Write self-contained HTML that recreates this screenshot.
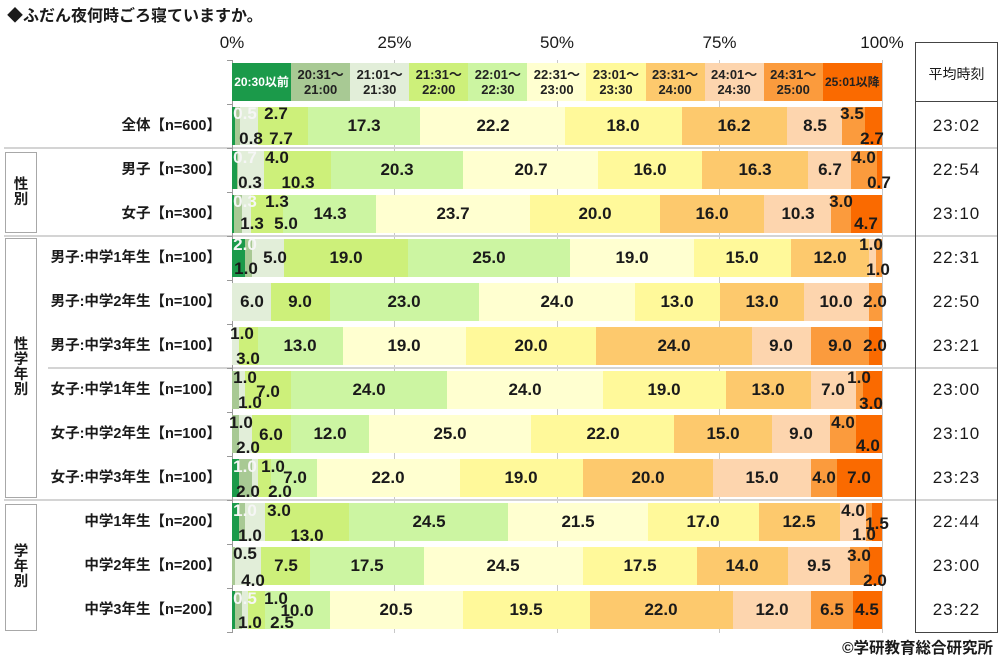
<!DOCTYPE html>
<html><head><meta charset="utf-8">
<style>
*{margin:0;padding:0;box-sizing:border-box}
html,body{width:1000px;height:660px;background:#fff;overflow:hidden}
body{position:relative;font-family:"Liberation Sans","Noto Sans CJK JP",sans-serif;color:#1a1a1a}
.abs{position:absolute}
.title{position:absolute;left:7px;top:6px;font-size:16px;font-weight:bold;line-height:22px;white-space:nowrap}
.ax{position:absolute;top:33px;width:60px;text-align:center;font-size:17px;line-height:20px}
.grid{position:absolute;top:60px;height:573px;width:1px;background:#c8c8c8}
.tick{position:absolute;left:227px;width:5px;height:1px;background:#999}
.sep{position:absolute;height:2px;background:#d4d4d4}
.grp{position:absolute;left:5px;width:32px;border:1px solid #a8a8a8;background:#fff;display:flex;align-items:center;justify-content:center;text-align:center;font-weight:bold;font-size:14.5px;line-height:15px}
.rl{position:absolute;right:779px;height:20px;line-height:20px;font-size:14.5px;font-weight:bold;white-space:nowrap;text-align:right}
.leg{position:absolute;top:63px;left:232px;width:650px;height:38px;display:flex}
.leg div{flex:0 0 59.09px;display:flex;align-items:center;justify-content:center;text-align:center;font-size:13px;font-weight:bold;line-height:15px;color:#222;white-space:nowrap}
.bar{position:absolute;left:232px;width:650px;height:38px;display:flex}
.bar i{display:block;flex:0 0 auto;height:38px}
.a{background:#1b9a4a}.b{background:#a8c994}.c{background:#e2eed9}.d{background:#cdf07a}.e{background:#ccf5a2}.f{background:#ffffd0}.g{background:#fff99a}.h{background:#fdc96d}.j{background:#fdd5ae}.k{background:#fb9b3d}.m{background:#fa6a00}
.v{position:absolute;width:60px;height:20px;line-height:20px;text-align:center;font-size:17px;font-weight:bold;color:#1a1a1a;white-space:nowrap}
.w{color:#f6f6f6}
.tbl{position:absolute;left:915px;top:42px;width:83px;height:591px;border:1px solid #444}
.th{position:absolute;left:915px;width:83px;text-align:center;font-size:14px;line-height:20px}
.tv{position:absolute;left:915px;width:83px;text-align:center;font-size:17px;line-height:20px;letter-spacing:1px}
.foot{position:absolute;right:7px;top:639px;font-size:15.5px;font-weight:bold;line-height:20px;white-space:nowrap}
</style></head><body>

<div class="title">◆ふだん夜何時ごろ寝ていますか。</div>

<div class="ax" style="left:202px">0%</div>
<div class="ax" style="left:364.5px">25%</div>
<div class="ax" style="left:527px">50%</div>
<div class="ax" style="left:689.5px">75%</div>
<div class="ax" style="left:852px">100%</div>

<div class="grid" style="left:394px"></div>
<div class="grid" style="left:557px"></div>
<div class="grid" style="left:719px"></div>
<div class="grid" style="left:882px"></div>

<div class="sep" style="left:4px;width:994px;top:147px"></div>
<div class="sep" style="left:4px;width:994px;top:235px"></div>
<div class="sep" style="left:48px;width:950px;top:367px"></div>
<div class="sep" style="left:4px;width:994px;top:499px"></div>

<div class="abs" style="left:232px;top:60px;width:1px;height:573px;background:#999"></div>
<div class="tick" style="top:60px"></div><div class="tick" style="top:104px"></div><div class="tick" style="top:148px"></div><div class="tick" style="top:192px"></div><div class="tick" style="top:236px"></div><div class="tick" style="top:280px"></div><div class="tick" style="top:324px"></div><div class="tick" style="top:368px"></div><div class="tick" style="top:412px"></div><div class="tick" style="top:456px"></div><div class="tick" style="top:500px"></div><div class="tick" style="top:544px"></div><div class="tick" style="top:588px"></div><div class="tick" style="top:632px"></div>

<div class="grp" style="top:152px;height:81px">性<br>別</div>
<div class="grp" style="top:238px;height:260px">性<br>学<br>年<br>別</div>
<div class="grp" style="top:504px;height:127px">学<br>年<br>別</div>

<div class="rl" style="top:116px">全体【n=600】</div>
<div class="rl" style="top:160px">男子【n=300】</div>
<div class="rl" style="top:204px">女子【n=300】</div>
<div class="rl" style="top:248px">男子:中学1年生【n=100】</div>
<div class="rl" style="top:292px">男子:中学2年生【n=100】</div>
<div class="rl" style="top:336px">男子:中学3年生【n=100】</div>
<div class="rl" style="top:380px">女子:中学1年生【n=100】</div>
<div class="rl" style="top:424px">女子:中学2年生【n=100】</div>
<div class="rl" style="top:468px">女子:中学3年生【n=100】</div>
<div class="rl" style="top:512px">中学1年生【n=200】</div>
<div class="rl" style="top:556px">中学2年生【n=200】</div>
<div class="rl" style="top:600px">中学3年生【n=200】</div>

<div class="leg">
<div class="a" style="color:#fff;font-size:12px">20:30以前</div>
<div class="b">20:31～<br>21:00</div>
<div class="c">21:01～<br>21:30</div>
<div class="d">21:31～<br>22:00</div>
<div class="e">22:01～<br>22:30</div>
<div class="f">22:31～<br>23:00</div>
<div class="g">23:01～<br>23:30</div>
<div class="h">23:31～<br>24:00</div>
<div class="j">24:01～<br>24:30</div>
<div class="k">24:31～<br>25:00</div>
<div class="m" style="font-size:12px">25:01以降</div>
</div>

<div class="bar" style="top:107px"><i class="a" style="width:0.5%"></i><i class="b" style="width:0.8%"></i><i class="c" style="width:2.7%"></i><i class="d" style="width:7.7%"></i><i class="e" style="width:17.3%"></i><i class="f" style="width:22.2%"></i><i class="g" style="width:18%"></i><i class="h" style="width:16.2%"></i><i class="j" style="width:8.5%"></i><i class="k" style="width:3.5%"></i><i class="m" style="width:2.6%"></i></div>
<div class="bar" style="top:151px"><i class="a" style="width:0.7%"></i><i class="b" style="width:0.3%"></i><i class="c" style="width:4%"></i><i class="d" style="width:10.3%"></i><i class="e" style="width:20.3%"></i><i class="f" style="width:20.7%"></i><i class="g" style="width:16%"></i><i class="h" style="width:16.3%"></i><i class="j" style="width:6.7%"></i><i class="k" style="width:4%"></i><i class="m" style="width:0.7%"></i></div>
<div class="bar" style="top:195px"><i class="a" style="width:0.3%"></i><i class="b" style="width:1.3%"></i><i class="c" style="width:1.3%"></i><i class="d" style="width:5%"></i><i class="e" style="width:14.3%"></i><i class="f" style="width:23.7%"></i><i class="g" style="width:20%"></i><i class="h" style="width:16%"></i><i class="j" style="width:10.3%"></i><i class="k" style="width:3%"></i><i class="m" style="width:4.8%"></i></div>
<div class="bar" style="top:239px"><i class="a" style="width:2%"></i><i class="b" style="width:1%"></i><i class="c" style="width:5%"></i><i class="d" style="width:19%"></i><i class="e" style="width:25%"></i><i class="f" style="width:19%"></i><i class="g" style="width:15%"></i><i class="h" style="width:12%"></i><i class="j" style="width:1%"></i><i class="k" style="width:1%"></i></div>
<div class="bar" style="top:283px"><i class="c" style="width:6%"></i><i class="d" style="width:9%"></i><i class="e" style="width:23%"></i><i class="f" style="width:24%"></i><i class="g" style="width:13%"></i><i class="h" style="width:13%"></i><i class="j" style="width:10%"></i><i class="k" style="width:2%"></i></div>
<div class="bar" style="top:327px"><i class="c" style="width:1%"></i><i class="d" style="width:3%"></i><i class="e" style="width:13%"></i><i class="f" style="width:19%"></i><i class="g" style="width:20%"></i><i class="h" style="width:24%"></i><i class="j" style="width:9%"></i><i class="k" style="width:9%"></i><i class="m" style="width:2%"></i></div>
<div class="bar" style="top:371px"><i class="b" style="width:1%"></i><i class="c" style="width:1%"></i><i class="d" style="width:7%"></i><i class="e" style="width:24%"></i><i class="f" style="width:24%"></i><i class="g" style="width:19%"></i><i class="h" style="width:13%"></i><i class="j" style="width:7%"></i><i class="k" style="width:1%"></i><i class="m" style="width:3%"></i></div>
<div class="bar" style="top:415px"><i class="b" style="width:1%"></i><i class="c" style="width:2%"></i><i class="d" style="width:6%"></i><i class="e" style="width:12%"></i><i class="f" style="width:25%"></i><i class="g" style="width:22%"></i><i class="h" style="width:15%"></i><i class="j" style="width:9%"></i><i class="k" style="width:4%"></i><i class="m" style="width:4%"></i></div>
<div class="bar" style="top:459px"><i class="a" style="width:1%"></i><i class="b" style="width:2%"></i><i class="c" style="width:1%"></i><i class="d" style="width:2%"></i><i class="e" style="width:7%"></i><i class="f" style="width:22%"></i><i class="g" style="width:19%"></i><i class="h" style="width:20%"></i><i class="j" style="width:15%"></i><i class="k" style="width:4%"></i><i class="m" style="width:7%"></i></div>
<div class="bar" style="top:503px"><i class="a" style="width:1%"></i><i class="b" style="width:1%"></i><i class="c" style="width:3%"></i><i class="d" style="width:13%"></i><i class="e" style="width:24.5%"></i><i class="f" style="width:21.5%"></i><i class="g" style="width:17%"></i><i class="h" style="width:12.5%"></i><i class="j" style="width:4%"></i><i class="k" style="width:1%"></i><i class="m" style="width:1.5%"></i></div>
<div class="bar" style="top:547px"><i class="b" style="width:0.5%"></i><i class="c" style="width:4%"></i><i class="d" style="width:7.5%"></i><i class="e" style="width:17.5%"></i><i class="f" style="width:24.5%"></i><i class="g" style="width:17.5%"></i><i class="h" style="width:14%"></i><i class="j" style="width:9.5%"></i><i class="k" style="width:3%"></i><i class="m" style="width:2%"></i></div>
<div class="bar" style="top:591px"><i class="a" style="width:0.5%"></i><i class="b" style="width:1%"></i><i class="c" style="width:1%"></i><i class="d" style="width:2.5%"></i><i class="e" style="width:10%"></i><i class="f" style="width:20.5%"></i><i class="g" style="width:19.5%"></i><i class="h" style="width:22%"></i><i class="j" style="width:12%"></i><i class="k" style="width:6.5%"></i><i class="m" style="width:4.5%"></i></div>

<div class="v w" style="left:215px;top:104px">0.5</div>
<div class="v" style="left:246px;top:104px">2.7</div>
<div class="v" style="left:221px;top:129px">0.8</div>
<div class="v" style="left:251px;top:129px">7.7</div>
<div class="v" style="left:334px;top:116px">17.3</div>
<div class="v" style="left:463px;top:116px">22.2</div>
<div class="v" style="left:593px;top:116px">18.0</div>
<div class="v" style="left:704px;top:116px">16.2</div>
<div class="v" style="left:785px;top:116px">8.5</div>
<div class="v" style="left:822px;top:104px">3.5</div>
<div class="v" style="left:842px;top:129px">2.7</div>

<div class="v w" style="left:215px;top:148px">0.7</div>
<div class="v" style="left:247px;top:148px">4.0</div>
<div class="v" style="left:220px;top:173px">0.3</div>
<div class="v" style="left:268px;top:173px">10.3</div>
<div class="v" style="left:367px;top:160px">20.3</div>
<div class="v" style="left:501px;top:160px">20.7</div>
<div class="v" style="left:620px;top:160px">16.0</div>
<div class="v" style="left:725px;top:160px">16.3</div>
<div class="v" style="left:800px;top:160px">6.7</div>
<div class="v" style="left:834px;top:148px">4.0</div>
<div class="v" style="left:849px;top:173px">0.7</div>

<div class="v w" style="left:215px;top:192px">0.3</div>
<div class="v" style="left:247px;top:192px">1.3</div>
<div class="v" style="left:222px;top:214px">1.3</div>
<div class="v" style="left:256px;top:214px">5.0</div>
<div class="v" style="left:300px;top:204px">14.3</div>
<div class="v" style="left:423px;top:204px">23.7</div>
<div class="v" style="left:565px;top:204px">20.0</div>
<div class="v" style="left:682px;top:204px">16.0</div>
<div class="v" style="left:768px;top:204px">10.3</div>
<div class="v" style="left:811px;top:192px">3.0</div>
<div class="v" style="left:836px;top:214px">4.7</div>

<div class="v w" style="left:215px;top:235px">2.0</div>
<div class="v" style="left:216px;top:259px">1.0</div>
<div class="v" style="left:245px;top:248px">5.0</div>
<div class="v" style="left:316px;top:248px">19.0</div>
<div class="v" style="left:459px;top:248px">25.0</div>
<div class="v" style="left:602px;top:248px">19.0</div>
<div class="v" style="left:712px;top:248px">15.0</div>
<div class="v" style="left:800px;top:248px">12.0</div>
<div class="v" style="left:841px;top:235px">1.0</div>
<div class="v" style="left:848px;top:260px">1.0</div>

<div class="v" style="left:222px;top:292px">6.0</div>
<div class="v" style="left:270px;top:292px">9.0</div>
<div class="v" style="left:374px;top:292px">23.0</div>
<div class="v" style="left:527px;top:292px">24.0</div>
<div class="v" style="left:647px;top:292px">13.0</div>
<div class="v" style="left:732px;top:292px">13.0</div>
<div class="v" style="left:806px;top:292px">10.0</div>
<div class="v" style="left:845px;top:292px">2.0</div>

<div class="v" style="left:212px;top:324px">1.0</div>
<div class="v" style="left:218px;top:349px">3.0</div>
<div class="v" style="left:270px;top:336px">13.0</div>
<div class="v" style="left:374px;top:336px">19.0</div>
<div class="v" style="left:501px;top:336px">20.0</div>
<div class="v" style="left:644px;top:336px">24.0</div>
<div class="v" style="left:751px;top:336px">9.0</div>
<div class="v" style="left:810px;top:336px">9.0</div>
<div class="v" style="left:845px;top:336px">2.0</div>

<div class="v" style="left:215px;top:368px">1.0</div>
<div class="v" style="left:238px;top:382px">7.0</div>
<div class="v" style="left:220px;top:393px">1.0</div>
<div class="v" style="left:339px;top:380px">24.0</div>
<div class="v" style="left:495px;top:380px">24.0</div>
<div class="v" style="left:634px;top:380px">19.0</div>
<div class="v" style="left:738px;top:380px">13.0</div>
<div class="v" style="left:803px;top:380px">7.0</div>
<div class="v" style="left:829px;top:368px">1.0</div>
<div class="v" style="left:841px;top:394px">3.0</div>

<div class="v" style="left:211px;top:413px">1.0</div>
<div class="v" style="left:241px;top:425px">6.0</div>
<div class="v" style="left:218px;top:438px">2.0</div>
<div class="v" style="left:300px;top:424px">12.0</div>
<div class="v" style="left:420px;top:424px">25.0</div>
<div class="v" style="left:573px;top:424px">22.0</div>
<div class="v" style="left:693px;top:424px">15.0</div>
<div class="v" style="left:771px;top:424px">9.0</div>
<div class="v" style="left:813px;top:413px">4.0</div>
<div class="v" style="left:838px;top:436px">4.0</div>

<div class="v w" style="left:215px;top:457px">1.0</div>
<div class="v" style="left:243px;top:457px">1.0</div>
<div class="v" style="left:265px;top:468px">7.0</div>
<div class="v" style="left:218px;top:482px">2.0</div>
<div class="v" style="left:250px;top:482px">2.0</div>
<div class="v" style="left:358px;top:468px">22.0</div>
<div class="v" style="left:491px;top:468px">19.0</div>
<div class="v" style="left:618px;top:468px">20.0</div>
<div class="v" style="left:732px;top:468px">15.0</div>
<div class="v" style="left:794px;top:468px">4.0</div>
<div class="v" style="left:829px;top:468px">7.0</div>

<div class="v w" style="left:215px;top:501px">1.0</div>
<div class="v" style="left:249px;top:501px">3.0</div>
<div class="v" style="left:220px;top:526px">1.0</div>
<div class="v" style="left:277px;top:526px">13.0</div>
<div class="v" style="left:399px;top:512px">24.5</div>
<div class="v" style="left:548px;top:512px">21.5</div>
<div class="v" style="left:673px;top:512px">17.0</div>
<div class="v" style="left:769px;top:512px">12.5</div>
<div class="v" style="left:823px;top:501px">4.0</div>
<div class="v" style="left:847px;top:514px">1.5</div>
<div class="v" style="left:834px;top:525px">1.0</div>

<div class="v" style="left:215px;top:544px">0.5</div>
<div class="v" style="left:223px;top:571px">4.0</div>
<div class="v" style="left:256px;top:556px">7.5</div>
<div class="v" style="left:337px;top:556px">17.5</div>
<div class="v" style="left:473px;top:556px">24.5</div>
<div class="v" style="left:610px;top:556px">17.5</div>
<div class="v" style="left:712px;top:556px">14.0</div>
<div class="v" style="left:789px;top:556px">9.5</div>
<div class="v" style="left:829px;top:546px">3.0</div>
<div class="v" style="left:845px;top:571px">2.0</div>

<div class="v w" style="left:215px;top:589px">0.5</div>
<div class="v" style="left:246px;top:589px">1.0</div>
<div class="v" style="left:267px;top:601px">10.0</div>
<div class="v" style="left:220px;top:613px">1.0</div>
<div class="v" style="left:252px;top:613px">2.5</div>
<div class="v" style="left:366px;top:600px">20.5</div>
<div class="v" style="left:496px;top:600px">19.5</div>
<div class="v" style="left:631px;top:600px">22.0</div>
<div class="v" style="left:742px;top:600px">12.0</div>
<div class="v" style="left:802px;top:600px">6.5</div>
<div class="v" style="left:837px;top:600px">4.5</div>

<div class="tbl"></div>
<div class="abs" style="left:915px;top:101px;width:83px;height:1px;background:#444"></div>
<div class="th" style="top:64px">平均時刻</div>
<div class="tv" style="top:116px">23:02</div>
<div class="tv" style="top:160px">22:54</div>
<div class="tv" style="top:204px">23:10</div>
<div class="tv" style="top:248px">22:31</div>
<div class="tv" style="top:292px">22:50</div>
<div class="tv" style="top:336px">23:21</div>
<div class="tv" style="top:380px">23:00</div>
<div class="tv" style="top:424px">23:10</div>
<div class="tv" style="top:468px">23:23</div>
<div class="tv" style="top:512px">22:44</div>
<div class="tv" style="top:556px">23:00</div>
<div class="tv" style="top:600px">23:22</div>

<div class="foot">©学研教育総合研究所</div>
</body></html>
